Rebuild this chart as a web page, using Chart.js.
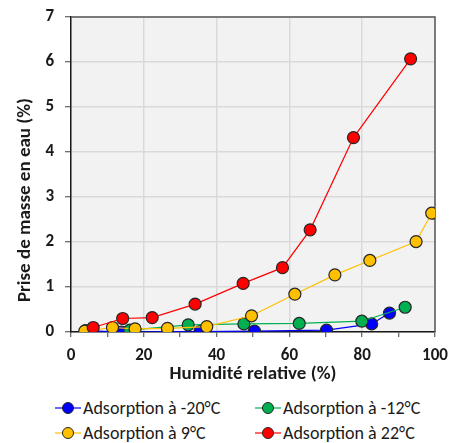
<!DOCTYPE html>
<html>
<head>
<meta charset="utf-8">
<script src="https://cdn.jsdelivr.net/npm/chart.js@4/dist/chart.umd.min.js"></script>
<style>
  body { margin: 0; background: #fff; }
  #wrap { position: relative; width: 449px; height: 443px; font-family: Carlito, Lato, sans-serif; }
  #legend { position: absolute; left: 0; top: 396px; width: 449px; }
  .item { position: absolute; display: flex; align-items: center; font-size: 18px; color: #1a1a1a; white-space: nowrap; height: 24px; }
  .item svg { margin-right: 2px; }
</style>
</head>
<body>
<div id="wrap">
  <canvas id="chart" width="449" height="392"></canvas>
  <div id="legend"></div>
</div>
<script>
'use strict';

// humidité relative (%) and prise de masse (%) per temperature
const rhM20 = [4, 13.9, 35.4, 50.4, 70.2, 82.6, 87.5];
const massM20 = [0.03, 0.0, 0.01, 0.02, 0.04, 0.18, 0.42];

const rhM12 = [16.2, 32.2, 47.5, 62.7, 79.9, 91.8];
const massM12 = [0.04, 0.16, 0.18, 0.19, 0.24, 0.55];

const rh9 = [3.8, 11.4, 17.6, 26.5, 37.3, 49.6, 61.5, 72.5, 82.1, 94.8, 99.1];
const mass9 = [0.02, 0.10, 0.07, 0.08, 0.12, 0.36, 0.84, 1.27, 1.59, 2.01, 2.64];

const rh22 = [6.1, 14.2, 22.3, 34.1, 47.3, 58.1, 65.7, 77.6, 93.3];
const mass22 = [0.10, 0.30, 0.32, 0.62, 1.08, 1.43, 2.27, 4.32, 6.07];

const seriesNames = ['Adsorption à -20°C', 'Adsorption à -12°C', 'Adsorption à 9°C', 'Adsorption à 22°C'];
const seriesColors = ['#0000ff', '#00b050', '#ffc000', '#ff0000'];
const yTitle = 'Prise de masse en eau (%)';
const xTitle = 'Humidité relative (%)';

const toPoints = (xs, ys) => xs.map((x, i) => ({ x: x, y: ys[i] }));
const allX = [rhM20, rhM12, rh9, rh22];
const allY = [massM20, massM12, mass9, mass22];

const FONT = 'Carlito, Lato, sans-serif';
const INK = '#1a1a1a';

const datasets = seriesNames.map((name, i) => ({
    label: name,
    data: toPoints(allX[i], allY[i]),
    showLine: true,
    borderColor: seriesColors[i],
    borderWidth: 1.2,
    backgroundColor: seriesColors[i],
    pointBackgroundColor: seriesColors[i],
    pointBorderColor: '#262626',
    pointBorderWidth: 1.2,
    pointRadius: 6,
    tension: 0,
    order: 3 - i
}));

// grey plot background, dark frame on top/right, and the y title
// (which sits a bit below the plot's middle in the original)
const plotFrame = {
    id: 'plotFrame',
    beforeDraw(chart) {
        const a = chart.chartArea;
        const c = chart.ctx;
        c.save();
        c.fillStyle = '#f2f2f2';
        c.fillRect(a.left, a.top, a.right - a.left, a.bottom - a.top);
        c.restore();
    },
    beforeDatasetsDraw(chart) {
        const a = chart.chartArea;
        const c = chart.ctx;
        c.save();
        c.strokeStyle = '#595959';
        c.lineWidth = 1.5;
        c.beginPath();
        c.moveTo(a.left, a.top);
        c.lineTo(a.right, a.top);
        c.lineTo(a.right, a.bottom);
        c.stroke();
        c.restore();
    },
    afterDraw(chart) {
        const c = chart.ctx;
        c.save();
        c.translate(25, 200);
        c.rotate(-Math.PI / 2);
        c.font = 'bold 19px ' + FONT;
        c.fillStyle = INK;
        c.textAlign = 'center';
        c.textBaseline = 'middle';
        c.fillText(yTitle, 0, 0);
        c.restore();
    }
};

new Chart(document.getElementById('chart'), {
    type: 'scatter',
    data: { datasets: datasets },
    plugins: [plotFrame],
    options: {
        responsive: false,
        animation: false,
        layout: { padding: { top: 17, right: 14, left: 0, bottom: 0 } },
        plugins: { legend: { display: false }, tooltip: { enabled: false } },
        scales: {
            x: {
                type: 'linear',
                min: 0,
                max: 100,
                ticks: {
                    stepSize: 10,
                    padding: 9,
                    color: INK,
                    font: { family: FONT, size: 17, weight: 'bold' },
                    callback: v => (v % 20 === 0 ? v : '')
                },
                grid: {
                    color: ctx => (ctx.tick && ctx.tick.value % 20 === 0 ? '#d9d9d9' : 'rgba(0,0,0,0)'),
                    lineWidth: 1.5,
                    tickColor: '#404040',
                    tickLength: 5,
                    tickWidth: 1
                },
                border: { color: '#1a1a1a', width: 1.5 },
                title: {
                    display: true,
                    text: xTitle,
                    color: INK,
                    font: { family: FONT, size: 19, weight: 'bold' },
                    padding: { top: 0, bottom: 6 }
                },
                afterFit: s => {
                    s.height = 60;
                    s.paddingLeft = 0;
                    s.paddingRight = 0;
                }
            },
            y: {
                type: 'linear',
                min: 0,
                max: 7,
                ticks: {
                    stepSize: 1,
                    padding: 11,
                    color: INK,
                    font: { family: FONT, size: 17, weight: 'bold' }
                },
                grid: {
                    color: '#d9d9d9',
                    lineWidth: 1.5,
                    tickColor: '#404040',
                    tickLength: 6,
                    tickWidth: 1
                },
                border: { color: '#1a1a1a', width: 1.5 },
                afterFit: s => {
                    s.width = 71;
                    s.paddingTop = 0;
                    s.paddingBottom = 0;
                }
            }
        }
    }
});

// legend in two columns, below the plot
const legendPos = [[55, 0], [255, 0], [55, 25], [255, 25]];
const legendEl = document.getElementById('legend');
seriesNames.forEach((name, i) => {
    const item = document.createElement('div');
    item.className = 'item';
    item.style.left = legendPos[i][0] + 'px';
    item.style.top = legendPos[i][1] + 'px';
    const col = seriesColors[i];
    item.innerHTML =
        '<svg width="26" height="14"><line x1="0" y1="7" x2="26" y2="7" stroke="' + col + '" stroke-width="1.2"/>' +
        '<circle cx="13" cy="7" r="5.5" fill="' + col + '" stroke="#262626" stroke-width="1"/></svg>' +
        '<span>' + name + '</span>';
    legendEl.appendChild(item);
});
</script>
</body>
</html>
